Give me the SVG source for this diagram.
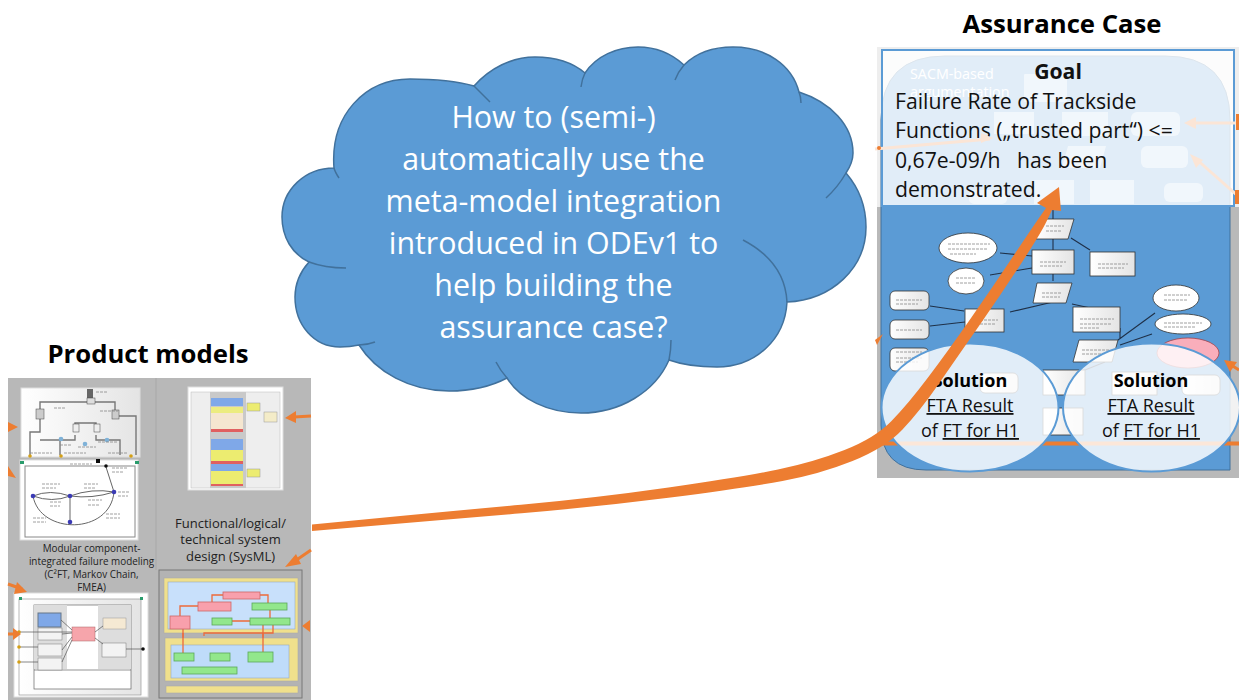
<svg xmlns="http://www.w3.org/2000/svg" width="1239" height="700" viewBox="0 0 1239 700">
<defs>
<style>
.title{font-family:"Open Sans","Noto Sans",sans-serif;font-weight:700;font-size:25.7px;fill:#000;text-anchor:middle}
.cl{font-family:"Open Sans","Noto Sans",sans-serif;font-size:30.4px;fill:#fff;text-anchor:middle}
.g{font-family:"Open Sans","Noto Sans",sans-serif;font-size:21.2px;fill:#111}
.s{font-family:"Open Sans","Noto Sans",sans-serif;font-size:18px;fill:#111;text-anchor:middle}
.sb{font-family:"Open Sans","Noto Sans",sans-serif;font-size:18px;font-weight:700;fill:#000;text-anchor:middle}
.c{font-family:"Open Sans","Noto Sans",sans-serif;font-size:9.9px;fill:#222;text-anchor:middle}
.c2{font-family:"Open Sans","Noto Sans",sans-serif;font-size:13px;fill:#222;text-anchor:middle}
.o{stroke:#ed7d31;stroke-width:3;fill:none}
.of{fill:#ed7d31}
.n{fill:url(#gw);stroke:#333;stroke-width:.8}
.e{fill:#fff;stroke:#333;stroke-width:.8}
.l{stroke:#555;stroke-width:.7;fill:none}
.sm{stroke:#888;stroke-width:.8;fill:none;stroke-dasharray:3 1}
.lg{stroke:#1f3048;stroke-width:1.1;fill:none}
.grn{fill:#92e78c;stroke:#5aa95a;stroke-width:.8}
.red{fill:#f8a0ac;stroke:#c66;stroke-width:.8}
.ar{stroke:#ed6a3a;stroke-width:1.3;fill:none}
.fa{fill:#fff;fill-opacity:.55}
.ov{fill:#fff;fill-opacity:.82;stroke:#5b9bd5;stroke-width:2}
</style>
<filter id="b" x="-5%" y="-5%" width="110%" height="110%"><feGaussianBlur stdDeviation="0.45"/></filter>
<linearGradient id="gw" x1="0" x2="1" y1="0" y2="0"><stop offset="0" stop-color="#fff"/><stop offset="1" stop-color="#e4e4e4"/></linearGradient>
</defs>
<rect width="1239" height="700" fill="#fff"/>

<g id="cloud">
<path d="M334,168 C330,115 365,79 410,79 C435,79 460,82 474,86 C490,68 512,57 535,57 C555,57 572,62 585,73 C596,56 617,47 638,47 C656,47 672,54 684,65 C696,53 714,47 733,47 C766,47 792,65 799,92 C830,102 853,125 853,153 C853,160 850,167 846,173 C858,187 866,206 866,227 C866,268 832,300 787,302 C785,340 755,367 717,367 C700,367 683,365 669,360 C655,392 620,413 581,413 C548,413 520,399 507,378 C490,387 470,391 449,391 C410,391 376,372 359,345 C350,347 345,347 340,347 C314,347 295,325 295,297 C295,283 300,272 309,262 C292,254 282,237 282,217 C282,190 305,168 334,168Z" fill="#5b9bd5" stroke="#41719c" stroke-width="1.5"/>
<path d="M334,168Q335,172 339,178M474,86Q482,94 490,102M585,73Q582,79 581,87M684,65Q678,72 675,80M799,92Q801,97 801,103M846,173Q838,187 826,198M787,302Q785,262 743,240M669,360Q671,350 671,340M507,378Q500,370 496,362M359,345Q367,345 375,342M309,262Q325,268 346,268" fill="none" stroke="#41719c" stroke-width="1.5"/>
<text class="cl" x="553.500" y="128">How to (semi-)</text>
<text class="cl" x="553.500" y="170">automatically use the</text>
<text class="cl" x="553.500" y="212">meta-model integration</text>
<text class="cl" x="553.500" y="254">introduced in ODEv1 to</text>
<text class="cl" x="553.500" y="296">help building the</text>
<text class="cl" x="553.500" y="338">assurance case?</text>
</g>

<text class="title" x="1062" y="33">Assurance Case</text>
<text class="title" x="148" y="363">Product models</text>

<g id="product-models">
<rect x="8" y="378" width="303" height="322" fill="#b8b8b8"/>
<line x1="156" y1="378" x2="156" y2="570" stroke="#a8a8a8" stroke-width="1"/>
<g filter="url(#b)">
<g id="fault-tree">
<rect x="21" y="388" width="119" height="69" fill="url(#gw)" stroke="#ddd"/>
<path class="l" d="M91,397V402H40V432H30V455M91,402H115V416H136V455M75,426V423H96V426M40,440H60V455M75,435V440H61M96,435V440H120V455" style="stroke-width:1.4;stroke:#777"/>
<rect x="87" y="389" width="6" height="9" fill="#666"/>
<rect x="87" y="398" width="8" height="6" fill="#ddd" stroke="#444" stroke-width=".5"/>
<rect x="36" y="409" width="8" height="10" fill="#ccc" stroke="#444" stroke-width=".5"/>
<rect x="112" y="410" width="7" height="9" fill="#ccc" stroke="#444" stroke-width=".5"/>
<rect x="73" y="424" width="6" height="8" fill="#eee" stroke="#444" stroke-width=".5"/>
<rect x="94" y="424" width="6" height="8" fill="#eee" stroke="#444" stroke-width=".5"/>
<circle cx="61" cy="439" r="2.300" fill="#7fb2d8"/><circle cx="85" cy="444" r="2.300" fill="#7fb2d8"/><circle cx="107" cy="440" r="2.300" fill="#7fb2d8"/>
<circle cx="30" cy="456" r="1.800" fill="#d4a017"/><circle cx="61" cy="456" r="1.800" fill="#d4a017"/><circle cx="131" cy="456" r="1.800" fill="#d4a017"/>
<path class="sm" d="M96,392H108M100,411H118M54,408H66M60,445H72M78,447H96M98,442H118M30,453H52M64,453H86M108,453H128"/>
</g>
<g id="markov">
<rect x="20" y="460" width="118" height="80" fill="#fff" stroke="#ddd"/>
<rect x="25" y="466" width="110" height="71" fill="none" stroke="#888" stroke-width="1"/>
<path class="l" d="M33,496Q50,489 70,496Q92,499 114,492M33,496Q52,503 70,496Q92,488 114,492M33,496C40,535 110,535 114,492M70,496V522M106,467L114,492" style="stroke-width:1;stroke:#666"/>
<circle cx="33" cy="496" r="2.300" fill="#3b3bb5"/><circle cx="70" cy="496" r="2.300" fill="#3b3bb5"/><circle cx="114" cy="492" r="2.300" fill="#3b3bb5"/><circle cx="70" cy="522" r="2.300" fill="#3b3bb5"/><circle cx="106" cy="466" r="1.800" fill="#111"/>
<rect x="20" y="461" width="4" height="3" fill="#2a9c6c"/><rect x="135" y="461" width="4" height="3" fill="#2a9c6c"/><rect x="96" y="459" width="4" height="4" fill="#111"/>
<path class="sm" d="M42,484H60M42,488H56M84,484H98M84,488H96M50,502H62M50,506H60M88,500H102M88,505H100M33,518H46M33,522H46M106,514H120M106,518H120M112,468H128M112,472H124M118,492H130M118,496H128M70,464H92"/>
</g>
<g id="component">
<rect x="14" y="593" width="134" height="104" fill="#fff" stroke="#ddd"/>
<rect x="19" y="599" width="122" height="96" fill="url(#gw)" stroke="#999" stroke-width=".7"/>
<rect x="34" y="605" width="97" height="84" fill="#fff" stroke="#666" stroke-width=".7"/>
<rect x="34" y="605" width="33" height="64" fill="#ddd"/><rect x="98" y="605" width="33" height="64" fill="#ddd"/>
<line x1="34" y1="670" x2="131" y2="670" stroke="#666" stroke-width=".7"/>
<rect x="38" y="613" width="23" height="14" fill="#7fa8e8" stroke="#678"/>
<rect x="38" y="628" width="24" height="12" fill="#f3f3f3" stroke="#777" stroke-width=".5"/>
<rect x="38" y="644" width="24" height="12" fill="#f3f3f3" stroke="#777" stroke-width=".5"/>
<rect x="38" y="658" width="24" height="12" fill="#f3f3f3" stroke="#777" stroke-width=".5"/>
<rect x="72" y="627" width="23" height="14" fill="#f6a5ab" stroke="#a66" stroke-width=".5"/>
<rect x="103" y="618" width="23" height="11" fill="#f5e9d3" stroke="#999" stroke-width=".5"/>
<rect x="102" y="643" width="24" height="14" fill="#f3f3f3" stroke="#777" stroke-width=".5"/>
<path class="l" d="M61,620L72,630M62,634L72,633M62,650L72,637M62,662L72,640M95,632L103,626M95,638L103,644M19,632H72M19,647H38M19,662H38M126,649H143"/>
<circle cx="19" cy="632" r="1.800" fill="#d4a017"/><circle cx="19" cy="647" r="1.800" fill="#d4a017"/><circle cx="19" cy="662" r="1.800" fill="#d4a017"/><circle cx="143" cy="649" r="1.800" fill="#111"/>
<rect x="19" y="597" width="3" height="3" fill="#2a9c6c"/><rect x="140" y="597" width="3" height="3" fill="#2a9c6c"/>
</g>
<g id="activity">
<rect x="188" y="387" width="95" height="103" fill="#fff" stroke="#ddd"/>
<rect x="191" y="392" width="89" height="96" fill="#eee" stroke="#bbb" stroke-width=".5"/>
<rect x="210" y="392" width="36" height="96" fill="#c9c9c9"/>
<rect x="211" y="398" width="32" height="8" fill="#7fa8e8"/><rect x="211" y="407" width="32" height="6" fill="#ecec80"/><rect x="211" y="413" width="32" height="7" fill="#f5e6d0"/><rect x="211" y="420" width="32" height="9" fill="#f5e6d0"/><rect x="211" y="429" width="32" height="3" fill="#e06060"/>
<rect x="211" y="439" width="32" height="11" fill="#7fa8e8"/><rect x="211" y="450" width="32" height="11" fill="#ecec70"/><rect x="211" y="461" width="32" height="3" fill="#e06060"/>
<rect x="211" y="464" width="32" height="7" fill="#7fa8e8"/><rect x="211" y="471" width="32" height="14" fill="#ecec70"/><rect x="211" y="484" width="32" height="2" fill="#e06060"/>
<rect x="247" y="403" width="13" height="8" fill="#ecec70" stroke="#999" stroke-width=".5"/><rect x="264" y="412" width="13" height="10" fill="#f4ecc8" stroke="#999" stroke-width=".5"/><rect x="247" y="469" width="13" height="8" fill="#ecec70" stroke="#999" stroke-width=".5"/>
</g>
<g id="system-design">
<rect x="159" y="570" width="143" height="128" fill="#b3b3b3" stroke="#777" stroke-width="1"/>
<rect x="164" y="578" width="134" height="55" fill="#f0e08c" stroke="#aaa" stroke-width=".6"/>
<rect x="168" y="582" width="127" height="47" fill="#c8e0fb" stroke="#9ab" stroke-width=".6"/>
<path class="ar" d="M180,616V606H198M231,606H212V595H223M268,603V595H260M232,621H250M270,618V610M204,636V633H273V625M183,653V629M263,652V625"/>
<rect x="223" y="592" width="37" height="7" class="red"/><rect x="198" y="602" width="33" height="9" class="red"/><rect x="170" y="616" width="20" height="13" class="red"/><rect x="252" y="603" width="35" height="7" class="grn"/><rect x="212" y="618" width="20" height="7" class="grn"/><rect x="250" y="618" width="40" height="7" class="grn"/>
<rect x="165" y="638" width="133" height="43" fill="#f0e08c" stroke="#aaa" stroke-width=".6"/>
<rect x="171" y="645" width="118" height="33" fill="#bfdcfa" stroke="#9ab" stroke-width=".6"/>
<path class="ar" d="M183,653V633M263,652V633"/>
<rect x="174" y="653" width="20" height="8" class="grn"/><rect x="210" y="653" width="20" height="8" class="grn"/><rect x="248" y="652" width="25" height="10" class="grn"/><rect x="182" y="667" width="55" height="7" class="grn"/>
<rect x="166" y="686" width="132" height="7" fill="#f0e08c" stroke="#aaa" stroke-width=".6"/>
</g>
</g>
<text class="c" x="91.500" y="552">Modular component-</text>
<text class="c" x="91.500" y="565">integrated failure modeling</text>
<text class="c" x="91.500" y="578">(C²FT, Markov Chain,</text>
<text class="c" x="91.500" y="591">FMEA)</text>
<text class="c2" x="230.500" y="528">Functional/logical/</text>
<text class="c2" x="230.500" y="544">technical system</text>
<text class="c2" x="230.500" y="561">design (SysML)</text>
</g>

<g id="assurance-case">
<rect x="877" y="47" width="362" height="431" fill="#b9b9b9"/>
<rect x="877" y="47" width="362" height="160" fill="#eee"/>
<path d="M881,425V120Q881,56 945,56H1165Q1230,56 1230,120V470H926Q881,470 881,425Z" fill="#5b9bd5" stroke="#41719c" stroke-width="1"/>
<text x="910" y="79" font-family="Open Sans,Noto Sans,sans-serif" font-size="14.300" fill="#fff">SACM-based</text>
<text x="910" y="97" font-family="Open Sans,Noto Sans,sans-serif" font-size="14.300" fill="#fff">argumentation</text>
<g id="inner-case" filter="url(#b)">
<path class="lg" d="M1053,207V223M1053,239V250M1071,238L1090,250M1053,272V281M1032,256L1000,253M1032,268L990,275M1053,302L1010,312M1072,304L1095,309M964,311L930,306M965,322L930,326M1120,328V338M1118,340L1155,313M1120,345L1152,334M1105,362L1080,372"/>
<path d="M1040,219H1074L1068,239H1036Z" class="n"/>
<rect x="1032" y="250" width="42" height="24" class="n"/>
<rect x="1090" y="252" width="45" height="24" class="n"/>
<ellipse cx="968" cy="248" rx="29" ry="15" class="e"/>
<ellipse cx="966" cy="281" rx="18" ry="13" class="e"/>
<path d="M1037,283H1072L1066,303H1033Z" class="n"/>
<rect x="965" y="309" width="39" height="23" class="n"/>
<rect x="1073" y="307" width="47" height="25" class="n"/>
<rect x="890" y="291" width="39" height="19" rx="5" class="n"/>
<rect x="890" y="320" width="39" height="19" rx="5" class="n"/>
<rect x="890" y="348" width="39" height="23" rx="5" class="n"/>
<ellipse cx="1176" cy="298" rx="23" ry="13" class="e"/>
<ellipse cx="1183" cy="324" rx="28" ry="10" class="e"/>
<ellipse cx="1188" cy="353" rx="31" ry="15" fill="#f9aebb" stroke="#a33" stroke-width=".7"/>
<path d="M1079,340H1118L1112,362H1073Z" class="n"/>
<rect x="980" y="373" width="38" height="20" rx="5" class="n"/>
<rect x="1043" y="370" width="42" height="25" class="n"/>
<rect x="1043" y="408" width="40" height="27" class="n"/>
<rect x="1112" y="372" width="45" height="23" class="n"/>
<rect x="1182" y="375" width="38" height="20" rx="5" class="n"/>
<path class="sm" d="M1046,226H1064M1046,231H1062M1040,262H1066M1040,266H1062M1098,264H1128M1098,268H1124M948,244H990M948,249H988M950,254H976M956,278H976M956,283H976M1042,293H1062M1042,297H1060M972,320H998M972,324H996M1080,319H1114M1080,324H1112M1080,328H1100M896,300H922M896,304H918M896,330H922M896,352H922M896,358H922M896,362H918M1164,295H1190M1164,300H1188M1164,323H1202M1164,327H1196M1082,350H1110M1082,354H1106"/>
</g>
<rect x="881" y="441.500" width="358" height="4" fill="#ed7d31"/>
<rect id="goal-box" x="882" y="50" width="352" height="156" class="ov"/>
<g id="faint-nodes" class="fa">
<rect x="1024" y="74" width="43" height="28" rx="1"/>
<rect x="994" y="112" width="40" height="22"/>
<rect x="1062" y="112" width="46" height="24"/>
<rect x="1131" y="112" width="49" height="24" rx="6"/>
<path d="M1068,146H1106L1100,168H1062Z"/>
<rect x="1141" y="146" width="47" height="22" rx="6"/>
<rect x="1034" y="180" width="40" height="24"/>
<rect x="1090" y="180" width="44" height="24"/>
<rect x="1164" y="183" width="39" height="19" rx="6"/>
<rect x="969" y="190" width="38" height="14" rx="5"/>
</g>
<g id="goal">
<text class="g" x="1058" y="79" text-anchor="middle" style="font-weight:700">Goal</text>
<text class="g" x="895" y="109">Failure Rate of Trackside</text>
<text class="g" x="895" y="138">Functions („trusted part“) &lt;=</text>
<text class="g" x="895" y="168" xml:space="preserve">0,67e-09/h   has been</text>
<text class="g" x="895" y="197">demonstrated.</text>
</g>
<g id="solution-1">
<ellipse cx="970" cy="407.500" rx="88.500" ry="64" class="ov"/>
<text class="sb" x="970" y="387">Solution</text>
<text class="s" x="970" y="412" text-decoration="underline">FTA Result</text>
<text class="s" x="970" y="437">of <tspan text-decoration="underline">FT for H1</tspan></text>
</g>
<g id="solution-2">
<ellipse cx="1151.500" cy="407.500" rx="88.500" ry="64" class="ov"/>
<text class="sb" x="1151" y="387">Solution</text>
<text class="s" x="1151" y="412" text-decoration="underline">FTA Result</text>
<text class="s" x="1151" y="437">of <tspan text-decoration="underline">FT for H1</tspan></text>
</g>
</g>

<g id="connectors">
<path class="of" d="M312,524.500 L379.500,518 Q447,511.500 521,504.750 Q595,498 668.500,487.500 Q742,477 778,469.500 Q814,462 844.500,450 Q875,438 891.500,421 Q908,404 928,377.500 Q948,351 970,319.500 Q992,288 1012,258 Q1032,228 1039,218 L1046,208 L1037,203 L1059,187 L1061,211 L1052,210 L1046.500,221.500 Q1041,233 1021.500,263 Q1002,293 980,324.500 Q958,356 939,383.500 Q920,411 902.500,429.500 Q885,448 852.500,461 Q820,474 782.500,481 Q745,488 670.500,497.500 Q596,507 521.500,513.250 Q447,519.500 379.500,525.250 L312,531Z"/>
<path class="of" d="M8,422L18,427L8,432Z"/>
<path class="of" d="M8,466L16,478L8,476Z"/>
<path class="o" d="M8,584L22,589"/><path class="of" d="M17,582L27,592L14,594Z"/>
<path class="o" d="M8,634H16"/><path class="of" d="M13,628L21,634L13,640Z"/>
<path class="o" d="M311,416L294,417"/><path class="of" d="M296,411L285,418L296,423Z"/>
<path class="o" d="M311,550L295,561"/><path class="of" d="M296,554L285,567L301,564Z"/>
<path class="of" d="M310,620L302,626L310,632Z"/>
<path d="M875,149L990,139M1239,123H1190M1239,197L1195,158" stroke="#fbe5d6" stroke-width="3" fill="none"/>
<path fill="#fbe5d6" d="M993,138L981,133L981,143ZM1184,123L1196,117L1196,129ZM1190,154L1203,160L1196,168Z"/>
<circle cx="879" cy="148" r="2" fill="#ed7d31"/>
<path class="of" d="M1236,114h3v16h-3zM1235,190h4v14h-4z"/>
<path class="o" d="M1239,370L1228,363"/><path class="of" d="M1224,360L1237,362L1230,372Z"/>
<path class="of" d="M883,334L875,340L877,345Z"/>
</g>
</svg>
